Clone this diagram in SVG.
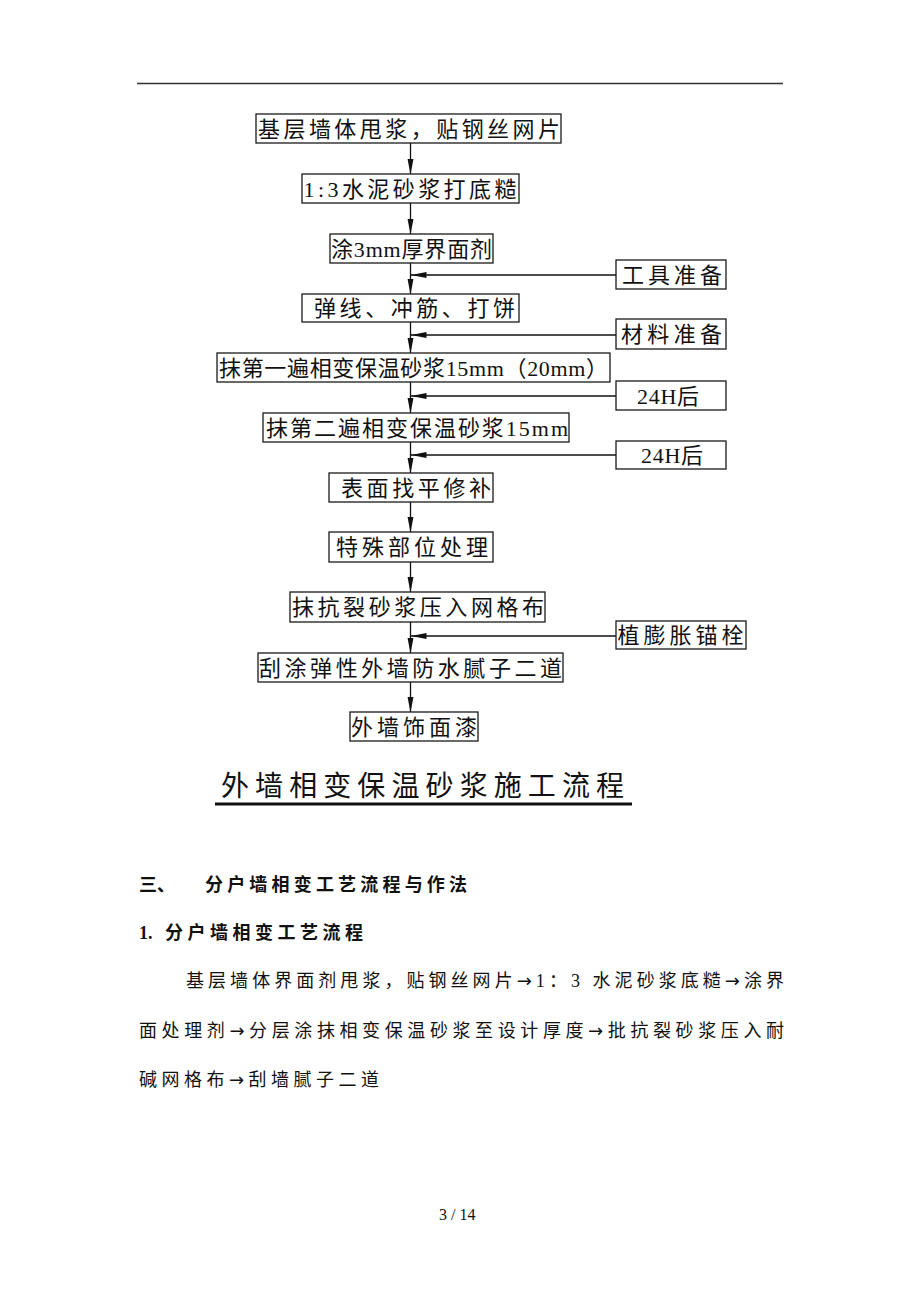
<svg xmlns="http://www.w3.org/2000/svg" width="920" height="1302" viewBox="0 0 920 1302">
<style>
.bx{fill:#fff;stroke:#1a1a1a;stroke-width:1.3}
.t{font-family:"Liberation Serif","Noto Sans CJK SC",serif;font-size:22px;fill:#111}
.c{stroke:#111;stroke-width:1.3;fill:none}
.p{font-family:"Liberation Serif","Noto Sans CJK SC",serif;font-size:18px;fill:#111}
.h{font-family:"Liberation Serif","Noto Sans CJK SC",serif;font-size:18px;font-weight:bold;fill:#111}
.ar{font-family:"DejaVu Sans",sans-serif}
</style>
<defs>
<marker id="ah" markerUnits="userSpaceOnUse" viewBox="0 -4 16 8" markerWidth="16" markerHeight="8" refX="15.5" refY="0" orient="auto">
<path d="M0,-3 L16,0 L0,3 Z" fill="#111"/>
</marker>
</defs>
<rect width="920" height="1302" fill="#fff"/>
<line x1="137" y1="83.5" x2="783" y2="83.5" stroke="#333" stroke-width="1.3"/>

<g id="connectors">
<line class="c" x1="410.5" y1="143" x2="410.5" y2="174" marker-end="url(#ah)"/>
<line class="c" x1="410.5" y1="203" x2="410.5" y2="234" marker-end="url(#ah)"/>
<line class="c" x1="410.5" y1="263" x2="410.5" y2="294" marker-end="url(#ah)"/>
<line class="c" x1="410.5" y1="322" x2="410.5" y2="353" marker-end="url(#ah)"/>
<line class="c" x1="410.5" y1="382" x2="410.5" y2="413" marker-end="url(#ah)"/>
<line class="c" x1="410.5" y1="442" x2="410.5" y2="473" marker-end="url(#ah)"/>
<line class="c" x1="410.5" y1="502" x2="410.5" y2="532" marker-end="url(#ah)"/>
<line class="c" x1="410.5" y1="562" x2="410.5" y2="592" marker-end="url(#ah)"/>
<line class="c" x1="410.5" y1="622" x2="410.5" y2="653" marker-end="url(#ah)"/>
<line class="c" x1="410.5" y1="682" x2="410.5" y2="712" marker-end="url(#ah)"/>
<line class="c" x1="616" y1="275" x2="411" y2="275" marker-end="url(#ah)"/>
<line class="c" x1="616" y1="335" x2="411" y2="335" marker-end="url(#ah)"/>
<line class="c" x1="616" y1="396" x2="411" y2="396" marker-end="url(#ah)"/>
<line class="c" x1="616" y1="455" x2="411" y2="455" marker-end="url(#ah)"/>
<line class="c" x1="616" y1="636" x2="411" y2="636" marker-end="url(#ah)"/>
</g>

<g id="n1"><rect class="bx" x="256" y="114" width="305" height="29"/><text class="t" x="258" y="136.5" textLength="302" lengthAdjust="spacing">基层墙体甩浆，贴钢丝网片</text></g>
<g id="n2"><rect class="bx" x="302" y="174" width="217" height="29"/><text class="t" x="303.5" y="196.5" textLength="213" lengthAdjust="spacing">1:3水泥砂浆打底糙</text></g>
<g id="n3"><rect class="bx" x="330" y="234" width="163" height="29"/><text class="t" x="331" y="256.5" textLength="161" lengthAdjust="spacing">涂3mm厚界面剂</text></g>
<g id="n4"><rect class="bx" x="302" y="294" width="217" height="28"/><text class="t" x="314" y="316" textLength="201" lengthAdjust="spacing">弹线、冲筋、打饼</text></g>
<g id="n5"><rect class="bx" x="217" y="353" width="393" height="29"/><text class="t" x="219" y="375.5" textLength="389" lengthAdjust="spacing">抹第一遍相变保温砂浆15mm（20mm）</text></g>
<g id="n6"><rect class="bx" x="263" y="413" width="306" height="29"/><text class="t" x="266" y="435.5" textLength="302" lengthAdjust="spacing">抹第二遍相变保温砂浆15mm</text></g>
<g id="n7"><rect class="bx" x="329" y="473" width="164" height="29"/><text class="t" x="341" y="495.5" textLength="150" lengthAdjust="spacing">表面找平修补</text></g>
<g id="n8"><rect class="bx" x="329" y="532" width="164" height="30"/><text class="t" x="336" y="555" textLength="152" lengthAdjust="spacing">特殊部位处理</text></g>
<g id="n9"><rect class="bx" x="290" y="592" width="255" height="30"/><text class="t" x="292" y="615" textLength="252" lengthAdjust="spacing">抹抗裂砂浆压入网格布</text></g>
<g id="n10"><rect class="bx" x="258" y="653" width="305" height="29"/><text class="t" x="259" y="675.5" textLength="303" lengthAdjust="spacing">刮涂弹性外墙防水腻子二道</text></g>
<g id="n11"><rect class="bx" x="350" y="712" width="128" height="29"/><text class="t" x="351" y="734.5" textLength="126" lengthAdjust="spacing">外墙饰面漆</text></g>

<g id="s1"><rect class="bx" x="616" y="260" width="110" height="29"/><text class="t" x="622" y="282.5" textLength="100" lengthAdjust="spacing">工具准备</text></g>
<g id="s2"><rect class="bx" x="616" y="319" width="110" height="30"/><text class="t" x="621" y="342" textLength="101" lengthAdjust="spacing">材料准备</text></g>
<g id="s3"><rect class="bx" x="616" y="381" width="110" height="29"/><text class="t" x="637" y="403.5" textLength="62" lengthAdjust="spacing">24H后</text></g>
<g id="s4"><rect class="bx" x="616" y="441" width="110" height="28"/><text class="t" x="641" y="463" textLength="62" lengthAdjust="spacing">24H后</text></g>
<g id="s5"><rect class="bx" x="616" y="621" width="130" height="28"/><text class="t" x="617.5" y="643" textLength="126" lengthAdjust="spacing">植膨胀锚栓</text></g>

<g id="title">
<text class="t" x="221" y="796" style="font-size:28px" textLength="403" lengthAdjust="spacing">外墙相变保温砂浆施工流程</text>
<line x1="215" y1="804" x2="632" y2="804" stroke="#111" stroke-width="3"/>
</g>

<g id="body">
<text class="h" x="139" y="891" textLength="36" lengthAdjust="spacing">三、</text>
<text class="h" x="205" y="891" textLength="262" lengthAdjust="spacing">分户墙相变工艺流程与作法</text>
<text class="h" x="139" y="939">1.</text>
<text class="h" x="165" y="939" textLength="198" lengthAdjust="spacing">分户墙相变工艺流程</text>
<text class="p" x="186" y="987" textLength="598" lengthAdjust="spacing">基层墙体界面剂甩浆，贴钢丝网片<tspan class="ar">→</tspan>1：3 水泥砂浆底糙<tspan class="ar">→</tspan>涂界</text>
<text class="p" x="139" y="1037" textLength="645" lengthAdjust="spacing">面处理剂<tspan class="ar">→</tspan>分层涂抹相变保温砂浆至设计厚度<tspan class="ar">→</tspan>批抗裂砂浆压入耐</text>
<text class="p" x="139" y="1086" textLength="240" lengthAdjust="spacing">碱网格布<tspan class="ar">→</tspan>刮墙腻子二道</text>
<text x="439" y="1220" style="font-family:'Liberation Serif',serif;font-size:16px;fill:#111">3 / 14</text>
</g>
</svg>
